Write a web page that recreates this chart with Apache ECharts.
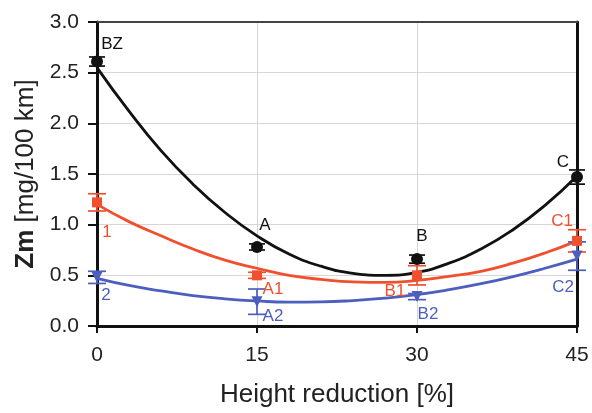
<!DOCTYPE html>
<html>
<head>
<meta charset="utf-8">
<script src="https://cdn.jsdelivr.net/npm/echarts@6/dist/echarts.min.js"></script>
<style>
  html, body { margin: 0; padding: 0; background: #fff; }
  #chart { width: 592px; height: 413px; }
</style>
</head>
<body>
<div id="chart"></div>
<script>
// measured points (height reduction %)
const xValues = [0, 15, 30, 45];
const blackMean = [2.61, 0.78, 0.66, 1.47];
const blackErr = [0.045, 0.03, 0.04, 0.07];
const redMean = [1.22, 0.50, 0.50, 0.84];
const redErr = [0.085, 0.03, 0.095, 0.11];
const blueMean = [0.48, 0.24, 0.29, 0.69];
const blueErr = [0.06, 0.125, 0.03, 0.14];

const blackLabels = ["BZ", "A", "B", "C"];
const redLabels = ["1", "A1", "B1", "C1"];
const blueLabels = ["2", "A2", "B2", "C2"];

// fitted curves, every 3 %
const curveX = [0, 3, 6, 9, 12, 15, 18, 21, 24, 27, 30, 33, 36, 39, 42, 45];
const blackCurve = [2.55, 2.12, 1.73, 1.4, 1.12, 0.89, 0.71, 0.59, 0.52, 0.5, 0.53, 0.62, 0.76, 0.95, 1.19, 1.48];
const redCurve = [1.2, 1.03, 0.89, 0.76, 0.65, 0.57, 0.5, 0.46, 0.435, 0.43, 0.45, 0.49, 0.54, 0.62, 0.72, 0.84];
const blueCurve = [0.47, 0.4, 0.346, 0.3, 0.268, 0.247, 0.236, 0.238, 0.251, 0.275, 0.31, 0.358, 0.417, 0.488, 0.57, 0.66];

const yTicks = ["0.0", "0.5", "1.0", "1.5", "2.0", "2.5", "3.0"];

const BLACK = "#111111";
const RED = "#f0502e";
const BLUE = "#4c5fbf";
const TEXT = "#222222";
const FONT = "Liberation Sans";

const chart = echarts.init(document.getElementById("chart"));

function curve(name, ys, color) {
  return {
    name,
    type: "line",
    data: curveX.map((x, i) => [x, ys[i]]),
    smooth: true,
    showSymbol: false,
    symbol: "none",
    lineStyle: { color, width: 2.8 },
    z: 2,
  };
}

function errorBars(name, means, errs, color, capW) {
  return {
    name,
    type: "custom",
    data: xValues.map((x, i) => [x, means[i] - errs[i], means[i] + errs[i]]),
    renderItem: (params, api) => {
      const lo = api.coord([api.value(0), api.value(1)]);
      const hi = api.coord([api.value(0), api.value(2)]);
      const style = { stroke: color, lineWidth: 1.7 };
      return {
        type: "group",
        children: [
          { type: "line", shape: { x1: lo[0], y1: lo[1], x2: hi[0], y2: hi[1] }, style },
          { type: "line", shape: { x1: lo[0] - capW, y1: lo[1], x2: lo[0] + capW, y2: lo[1] }, style },
          { type: "line", shape: { x1: hi[0] - capW, y1: hi[1], x2: hi[0] + capW, y2: hi[1] }, style },
        ],
      };
    },
    z: 3,
  };
}

function markers(name, means, labels, color, symbol, size, rotate, offsets) {
  return {
    name,
    type: "scatter",
    symbol,
    symbolSize: size,
    symbolRotate: rotate,
    itemStyle: { color, opacity: 1 },
    data: xValues.map((x, i) => ({
      value: [x, means[i]],
      label: {
        show: true,
        formatter: labels[i],
        position: "inside",
        offset: offsets[i],
        color,
        fontSize: 17,
        fontFamily: FONT,
      },
    })),
    z: 4,
  };
}

chart.setOption({
  animation: false,
  backgroundColor: "#ffffff",
  grid: { left: 97, right: 15, top: 22, bottom: 85 },
  xAxis: [
    {
      type: "value",
      min: 0,
      max: 45,
      interval: 15,
      name: "Height reduction [%]",
      nameLocation: "middle",
      nameGap: 56,
      nameTextStyle: { fontSize: 26, color: TEXT, fontFamily: FONT },
      axisLine: { show: true, onZero: false, lineStyle: { color: BLACK, width: 3 } },
      axisTick: { show: true, length: 7, lineStyle: { color: BLACK, width: 2 } },
      axisLabel: { fontSize: 21, color: TEXT, fontFamily: FONT, margin: 19 },
      splitLine: { show: true, lineStyle: { color: "#dcd4d4", width: 1 } },
    },
    {
      type: "value",
      position: "top",
      min: 0,
      max: 45,
      interval: 15,
      axisLine: { show: true, onZero: false, lineStyle: { color: "#444", width: 2 } },
      axisTick: { show: false },
      axisLabel: { show: false },
      splitLine: { show: false },
    },
  ],
  yAxis: [
    {
      type: "value",
      min: 0,
      max: 3,
      interval: 0.5,
      name: "{b|Zm} [mg/100 km]",
      nameLocation: "middle",
      nameGap: 56,
      nameTextStyle: {
        fontSize: 26,
        color: TEXT,
        fontFamily: FONT,
        rich: { b: { fontSize: 26, fontWeight: "bold", color: TEXT, fontFamily: FONT } },
      },
      axisLine: { show: true, onZero: false, lineStyle: { color: BLACK, width: 3 } },
      axisTick: { show: true, length: 9, lineStyle: { color: BLACK, width: 2 } },
      axisLabel: {
        fontSize: 21,
        color: TEXT,
        fontFamily: FONT,
        margin: 18,
        formatter: (v) => yTicks[Math.round(v * 2)],
      },
      splitLine: { show: true, lineStyle: { color: "#dcd4d4", width: 1 } },
    },
    {
      type: "value",
      position: "right",
      min: 0,
      max: 3,
      interval: 0.5,
      axisLine: { show: true, onZero: false, lineStyle: { color: BLACK, width: 3 } },
      axisTick: { show: false },
      axisLabel: { show: false },
      splitLine: { show: false },
    },
  ],
  series: [
    curve("black fit", blackCurve, BLACK),
    curve("red fit", redCurve, RED),
    curve("blue fit", blueCurve, BLUE),
    errorBars("black err", blackMean, blackErr, BLACK, 8),
    errorBars("red err", redMean, redErr, RED, 9),
    errorBars("blue err", blueMean, blueErr, BLUE, 9),
    markers("Z", blackMean, blackLabels, BLACK, "circle", 12, 0,
      [[15, -17], [8, -22], [5, -23], [-14, -15]]),
    markers("1", redMean, redLabels, RED, "rect", 10, 0,
      [[10, 30], [16, 14], [-22, 16], [-15, -20]]),
    markers("2", blueMean, blueLabels, BLUE, "triangle", 11, 180,
      [[9, 18], [16, 15], [11, 18], [-14, 31]]),
  ],
});
</script>
</body>
</html>
